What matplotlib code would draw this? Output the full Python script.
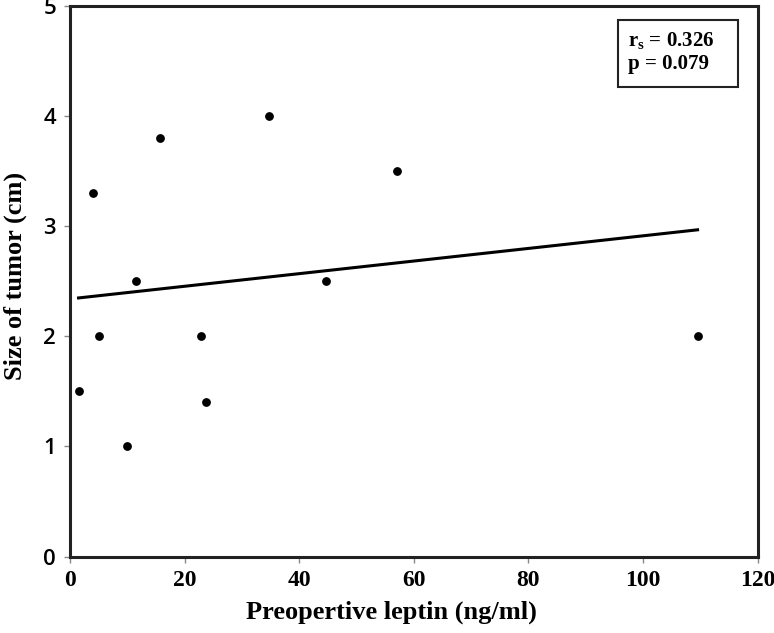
import numpy as np
import matplotlib.pyplot as plt
from matplotlib.patches import Rectangle

# values
leptin = [1.5, 4.1, 5.0, 10.0, 11.5, 15.7, 22.8, 23.8, 34.8, 44.7, 57.0, 109.5]
tumor_size = [1.5, 3.3, 2.0, 1.0, 2.5, 3.8, 2.0, 1.4, 4.0, 2.5, 3.5, 2.0]
trend_intercept = 2.34
trend_slope = 0.00573
x_ticks = [0, 20, 40, 60, 80, 100, 120]
y_ticks = [0, 1, 2, 3, 4, 5]
stats_text = "r$_\\mathregular{s}$ = 0.326\np = 0.079"

fig = plt.figure(figsize=(7.74, 6.33), dpi=100)
ax = fig.add_axes([0.0904, 0.1208, 0.8886, 0.8697])

ax.scatter(leptin, tumor_size, s=28, color="black", zorder=3)

xs = np.array([min(leptin), max(leptin)])
ax.plot(xs, trend_intercept + trend_slope * xs, color="black", lw=2.2)

ax.set_xlim(0, 120)
ax.set_ylim(0, 5)
ax.set_xticks(x_ticks)
ax.set_yticks(y_ticks)

for s in ax.spines.values():
    s.set_linewidth(2.2)
    s.set_color("#222222")

ax.tick_params(axis="both", direction="out", length=4, width=1, color="#888888", pad=6)
for lab in ax.get_xticklabels():
    lab.set_fontfamily("Liberation Serif")
    lab.set_fontsize(17)
    lab.set_fontweight("bold")
for lab in ax.get_yticklabels():
    lab.set_fontfamily("Open Sans")
    lab.set_fontsize(16)
    lab.set_fontweight("semibold")

ax.set_xlabel("Preopertive leptin (ng/ml)", fontfamily="Liberation Serif",
              fontsize=19, fontweight="bold")
ax.xaxis.set_label_coords(0.468, -0.08)
ax.set_ylabel("Size of tumor (cm)", fontfamily="Liberation Serif",
              fontsize=19, fontweight="bold")
ax.yaxis.set_label_coords(-0.062, 0.51)

# stats box
ax.add_patch(Rectangle((0.7965, 0.853), 0.1745, 0.1215, transform=ax.transAxes,
                       fc="white", ec="#222222", lw=1.5, zorder=4))
ax.text(0.811, 0.955, stats_text, transform=ax.transAxes, va="top", ha="left",
        fontfamily="Liberation Serif", fontsize=15, fontweight="bold",
        linespacing=1.1, zorder=5)

fig.savefig("out.png", dpi=100)
